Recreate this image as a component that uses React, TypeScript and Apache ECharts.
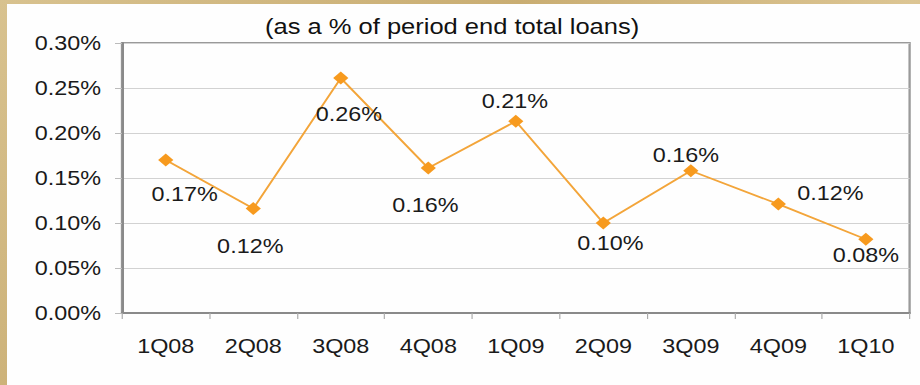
import React, { useEffect, useRef } from "react";
import * as echarts from "echarts";

const categories = ["1Q08", "2Q08", "3Q08", "4Q08", "1Q09", "2Q09", "3Q09", "4Q09", "1Q10"];
const values = [0.17, 0.116, 0.261, 0.161, 0.213, 0.1, 0.158, 0.121, 0.082];
const yTicks = [0, 0.05, 0.1, 0.15, 0.2, 0.25, 0.3];
const title = "(as a % of period end total loans)";

// The reference image is horizontally stretched; reproduce that with a CSS scaleX.
const SX = 1.17;
const W = 913;
const H = 381;
// label offsets relative to the marker (page pixels; style only)
const labelOffsets: [number, number][] = [
  [19, 34], [-3, 38], [8, 36], [-3, 37], [-1, -20], [7, 20], [-5, -16], [52, -11], [0, 16],
];

const FONT = "Liberation Sans";

export default function App() {
  const ref = useRef<HTMLDivElement>(null);
  useEffect(() => {
    if (!ref.current) return;
    const chart = echarts.init(ref.current, undefined, { renderer: "svg" });
    chart.setOption({
      animation: false,
      backgroundColor: "transparent",
      graphic: [
        {
          type: "text",
          left: (265 - 7) / SX,
          top: 12,
          style: { text: title, fontSize: 21.8, fontFamily: FONT, fill: "#111" },
        },
      ],
      grid: {
        left: 115 / SX,
        right: 10 / SX,
        top: 39,
        bottom: 72,
        show: true,
        borderColor: "#9a9a9a",
        borderWidth: 2,
        containLabel: false,
      },
      xAxis: {
        type: "category",
        data: categories,
        boundaryGap: true,
        axisLine: { show: true, lineStyle: { color: "#8a8a8a", width: 2 } },
        axisTick: { show: true, alignWithLabel: false, length: 6, lineStyle: { color: "#aaa" } },
        axisLabel: { color: "#1a1a1a", fontSize: 20, fontFamily: FONT, margin: 23 },
        splitLine: { show: false },
      },
      yAxis: {
        type: "value",
        min: 0,
        max: 0.3,
        interval: 0.05,
        axisLine: { show: true, lineStyle: { color: "#8a8a8a", width: 2 } },
        axisTick: { show: true, length: 6, lineStyle: { color: "#bbb" } },
        axisLabel: {
          color: "#1a1a1a",
          fontSize: 20,
          fontFamily: FONT,
          margin: 18,
          formatter: (v: number) => (yTicks.some((t) => Math.abs(t - v) < 1e-9) ? v.toFixed(2) + "%" : ""),
        },
        splitLine: { show: true, lineStyle: { color: "#d2d2d2", width: 1 } },
      },
      series: [
        {
          type: "line",
          data: values.map((v, i) => ({
            value: v,
            label: {
              show: true,
              position: "inside",
              offset: [labelOffsets[i][0] / SX, labelOffsets[i][1]],
              formatter: v.toFixed(2) + "%",
              color: "#1a1a1a",
              fontSize: 20,
              fontFamily: FONT,
            },
          })),
          symbol: "diamond",
          symbolSize: 13,
          lineStyle: { color: "#F3A53A", width: 1.8 },
          itemStyle: { color: "#F79A1E", borderWidth: 0 },
          emphasis: { disabled: true },
        },
      ],
    });
    return () => chart.dispose();
  }, []);

  return (
    <div
      style={{
        position: "absolute",
        left: 0,
        top: 0,
        width: 920,
        height: 385,
        background: "linear-gradient(135deg, #d8c28f, #c9ad72 40%, #dcc593 70%, #cfb47c)",
        overflow: "hidden",
      }}
    >
      <div
        style={{
          position: "absolute",
          left: 7,
          top: 4,
          width: W,
          height: H,
          background: "#fefefe",
        }}
      />
      <div
        style={{
          position: "absolute",
          left: 7,
          top: 4,
          width: W,
          height: H,
          overflow: "hidden",
        }}
      >
        <div
          ref={ref}
          style={{
            width: W / SX,
            height: H,
            transform: `scaleX(${SX})`,
            transformOrigin: "0 0",
          }}
        />
      </div>
    </div>
  );
}
